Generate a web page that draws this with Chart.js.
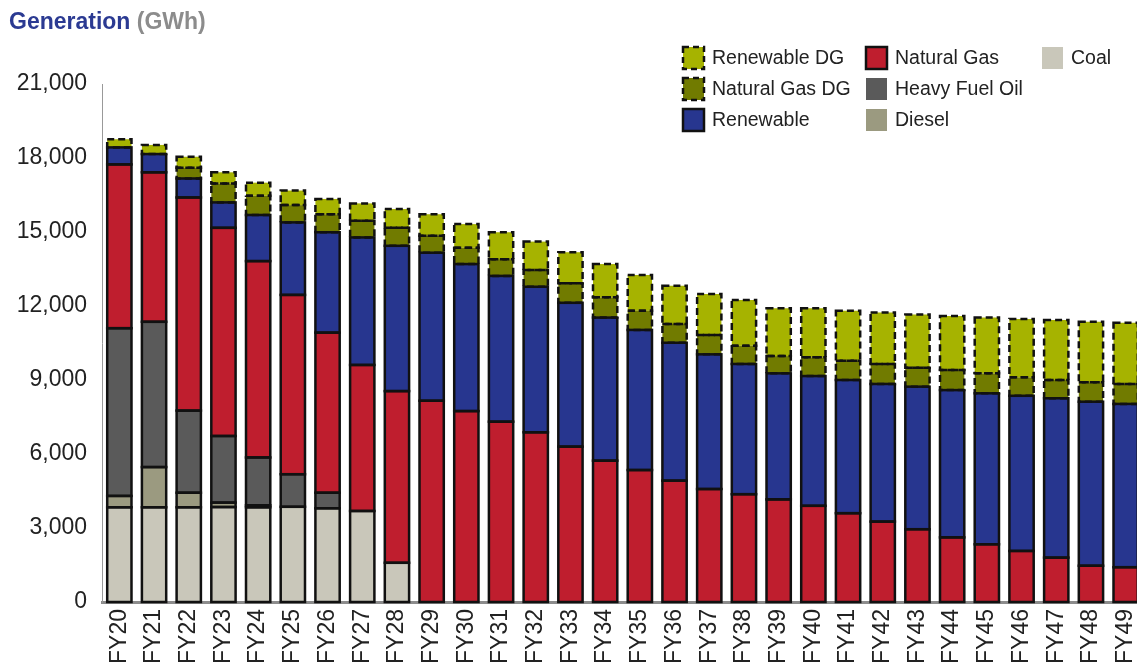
<!DOCTYPE html>
<html lang="en">
<head>
  <meta charset="UTF-8" />
  <title>Generation (GWh)</title>
  <script src="https://cdn.jsdelivr.net/npm/chart.js"></script>
  <style>
    html, body { margin: 0; padding: 0; background: #fff; overflow: hidden; }
    .wrap { position: relative; width: 1143px; height: 671px; }
    .title {
      position: absolute; left: 9px; top: 8px;
      font: bold 23px Arial, "Liberation Sans", sans-serif;
      color: #2b3a92; white-space: nowrap;
    }
    .title span { color: #8c8c8c; }
  </style>
</head>
<body>
  <div class="wrap">
    <canvas id="genChart"></canvas>
    <div class="title">Generation <span>(GWh)</span></div>
  </div>

  <script>
    const years = [
      "FY20", "FY21", "FY22", "FY23", "FY24", "FY25", "FY26", "FY27", "FY28", "FY29",
      "FY30", "FY31", "FY32", "FY33", "FY34", "FY35", "FY36", "FY37", "FY38", "FY39",
      "FY40", "FY41", "FY42", "FY43", "FY44", "FY45", "FY46", "FY47", "FY48", "FY49"
    ];

    // GWh
    const coal = [3840, 3840, 3840, 3850, 3840, 3860, 3800, 3690, 1590, 0,
      0, 0, 0, 0, 0, 0, 0, 0, 0, 0, 0, 0, 0, 0, 0, 0, 0, 0, 0, 0];
    const diesel = [460, 1630, 590, 180, 80, 0, 0, 0, 0, 0,
      0, 0, 0, 0, 0, 0, 0, 0, 0, 0, 0, 0, 0, 0, 0, 0, 0, 0, 0, 0];
    const heavyFuelOil = [6800, 5890, 3330, 2700, 1940, 1320, 630, 0, 0, 0,
      0, 0, 0, 0, 0, 0, 0, 0, 0, 0, 0, 0, 0, 0, 0, 0, 0, 0, 0, 0];
    const naturalGas = [6640, 6060, 8640, 8440, 7960, 7270, 6490, 5920, 6960, 8160,
      7740, 7310, 6880, 6300, 5730, 5350, 4920, 4580, 4370, 4160,
      3900, 3600, 3260, 2950, 2620, 2340, 2070, 1800, 1470, 1410];
    const renewable = [690, 740, 770, 1030, 1870, 2940, 4070, 5170, 5890, 6000,
      5960, 5910, 5900, 5830, 5800, 5680, 5590, 5460, 5280, 5110,
      5260, 5400, 5580, 5780, 5970, 6120, 6290, 6460, 6650, 6620];
    const naturalGasDG = [0, 0, 430, 770, 780, 700, 730, 680, 730, 690,
      660, 680, 680, 790, 820, 780, 760, 780, 740, 700,
      760, 780, 810, 770, 820, 810, 750, 740, 790, 810];
    const renewableDG = [330, 370, 450, 450, 530, 590, 620, 700, 760, 870,
      960, 1090, 1150, 1260, 1350, 1450, 1550, 1670, 1850, 1940,
      1990, 2030, 2090, 2160, 2180, 2260, 2360, 2430, 2450, 2480];

    const yTicks = [0, 3000, 6000, 9000, 12000, 15000, 18000, 21000];

    const FONT = 'Arial, "Liberation Sans", sans-serif';

    // legend: columns of dataset labels, how the reference lays them out
    const legendCols = [
      ["Renewable DG", "Natural Gas DG", "Renewable"],
      ["Natural Gas", "Heavy Fuel Oil", "Diesel"],
      ["Coal"]
    ];

    // bar outlines: solid, dashed for the DG series (Chart.js bars can't dash)
    const outlines = {
      id: "outlines",
      afterDatasetsDraw(chart) {
        const ctx = chart.ctx;
        ctx.save();
        ctx.lineWidth = 2.5;
        ctx.strokeStyle = "#111";
        [false, true].forEach(dashedPass => {
          chart.data.datasets.forEach((ds, i) => {
            if (!!ds.dashed !== dashedPass) return;
            ctx.setLineDash(ds.dashed ? [7, 4] : []);
            chart.getDatasetMeta(i).data.forEach(el => {
              const p = el.getProps(["x", "y", "base", "width"], true);
              const h = Math.abs(p.base - p.y);
              if (h < 0.5) return;
              ctx.strokeRect(p.x - p.width / 2, Math.min(p.y, p.base), p.width, h);
            });
          });
        });
        ctx.restore();
      }
    };

    const customLegend = {
      id: "customLegend",
      afterDraw(chart) {
        const ctx = chart.ctx;
        const colX = [683, 866, 1042];
        const rowY = [47, 78, 109];
        ctx.save();
        ctx.font = "19.5px " + FONT;
        ctx.textBaseline = "middle";
        legendCols.forEach((col, c) => {
          col.forEach((label, r) => {
            const ds = chart.data.datasets.find(d => d.label === label);
            const x = colX[c], y = rowY[r];
            ctx.fillStyle = ds.backgroundColor;
            ctx.fillRect(x, y, 21, 22);
            if (ds.legendBorder) {
              ctx.lineWidth = 2.5;
              ctx.strokeStyle = "#111";
              ctx.setLineDash(ds.dashed ? [6, 4] : []);
              ctx.strokeRect(x, y, 21, 22);
              ctx.setLineDash([]);
            }
            ctx.fillStyle = "#222";
            ctx.fillText(label, x + 29, y + 12);
          });
        });
        ctx.restore();
      }
    };

    new Chart(document.getElementById("genChart"), {
      type: "bar",
      data: {
        labels: years,
        datasets: [
          { label: "Coal", data: coal, backgroundColor: "#c9c7ba" },
          { label: "Diesel", data: diesel, backgroundColor: "#9b9a80" },
          { label: "Heavy Fuel Oil", data: heavyFuelOil, backgroundColor: "#5a5a5a" },
          { label: "Natural Gas", data: naturalGas, backgroundColor: "#bf1e2e", legendBorder: true },
          { label: "Renewable", data: renewable, backgroundColor: "#27368f", legendBorder: true },
          { label: "Natural Gas DG", data: naturalGasDG, backgroundColor: "#717b00", legendBorder: true, dashed: true },
          { label: "Renewable DG", data: renewableDG, backgroundColor: "#a6b300", legendBorder: true, dashed: true }
        ]
      },
      options: {
        responsive: true,
        maintainAspectRatio: false,
        animation: false,
        borderWidth: 0,
        barPercentage: 0.7,
        categoryPercentage: 1,
        layout: { padding: { top: 84, right: 0, left: 0, bottom: 0 } },
        plugins: {
          legend: { display: false },
          tooltip: { enabled: false }
        },
        scales: {
          x: {
            stacked: true,
            grid: { display: false, drawTicks: false },
            border: { display: true, color: "#8c8c8c", width: 3 },
            ticks: {
              autoSkip: false,
              minRotation: 90,
              maxRotation: 90,
              padding: 7,
              color: "#222",
              font: { family: FONT, size: 23 }
            },
            afterFit(scale) {
              scale.height = 69;
              scale.paddingLeft = 0;
              scale.paddingRight = 0;
            }
          },
          y: {
            stacked: true,
            min: 0,
            max: 21000,
            grid: { display: false, drawTicks: false },
            border: { display: true, color: "#999", width: 1 },
            afterBuildTicks(scale) {
              scale.ticks = yTicks.map(v => ({ value: v }));
            },
            ticks: {
              padding: 15,
              color: "#222",
              font: { family: FONT, size: 23 },
              callback: v => v.toLocaleString("en-US")
            },
            afterFit(scale) { scale.width = 102; }
          }
        }
      },
      plugins: [outlines, customLegend]
    });
  </script>
</body>
</html>
